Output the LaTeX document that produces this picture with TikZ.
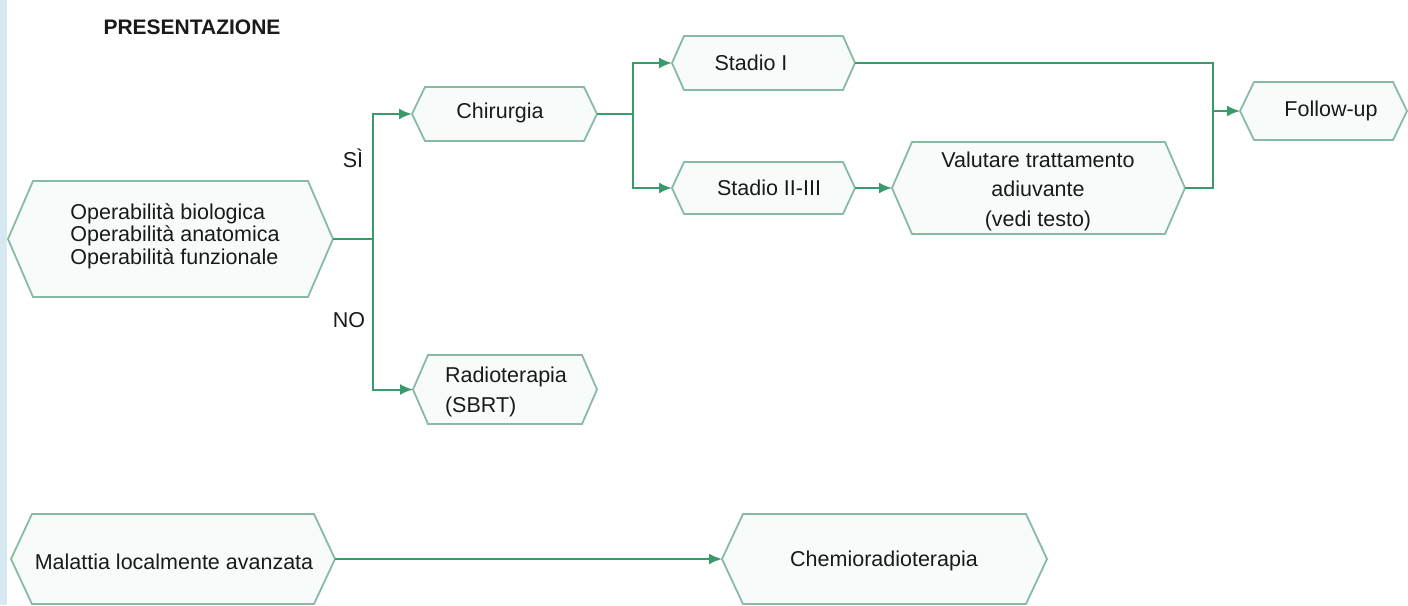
\documentclass[tikz,border=0pt]{standalone}
\usepackage{fontspec}
\setmainfont{Liberation Sans}
\usetikzlibrary{arrows.meta}

\definecolor{flowgreen}{HTML}{3A9A6C}
\definecolor{boxedge}{HTML}{88BBA4}
\definecolor{boxfill}{HTML}{F7FCFA}
\definecolor{sidebar}{HTML}{D6E9F2}
\definecolor{ink}{HTML}{1A1A1A}

% Elongated hexagon: name, left tip x, right tip x, top y, bottom y, slant.
% Defines (name-l), (name-r) at the two tips and (name-c) at the centre.
\newcommand\hexbox[6]{%
  \draw[hexedge] (#2,{(#4+#5)/2}) -- ({#2+#6},#4) -- ({#3-#6},#4)
    -- (#3,{(#4+#5)/2}) -- ({#3-#6},#5) -- ({#2+#6},#5) -- cycle;
  \coordinate (#1-l) at (#2,{(#4+#5)/2});
  \coordinate (#1-r) at (#3,{(#4+#5)/2});
  \coordinate (#1-c) at ({(#2+#3)/2},{(#4+#5)/2});
}

\tikzset{
  hexedge/.style={draw=boxedge, fill=boxfill, line width=1.8pt, line join=miter},
  txt/.style={text=ink, inner sep=0pt, font=\fontsize{21.5}{22.5}\selectfont},
  txtwide/.style={txt, font=\fontsize{21.5}{29.5}\selectfont},
  flow/.style={draw=flowgreen, line width=2pt},
  flowarrow/.style={flow, -{Latex[length=13pt,width=11pt]}},
}

\begin{document}
\begin{tikzpicture}[x=1pt,y=-1pt]
\useasboundingbox (0,0) rectangle (1408,605);
\fill[white] (0,0) rectangle (1408,605);
\fill[sidebar] (0,0) rectangle (7,605);

\node[txt, font=\bfseries\fontsize{21}{22}\selectfont] (title) at (192,27) {PRESENTAZIONE};

% boxes
\hexbox{oper}{8}{333}{181}{297}{25}
\node[txt, align=left] (oper) at (175,236) {Operabilità biologica\\Operabilità anatomica\\Operabilità funzionale};

\hexbox{chir}{412}{597}{87}{141}{13}
\node[txt] (chir) at (500,113) {Chirurgia};

\hexbox{stadA}{672}{855}{36}{90}{12}
\node[txt] (stadA) at (751,63) {Stadio I};

\hexbox{stadB}{672}{855}{162}{214}{12}
\node[txt] (stadB) at (769,188) {Stadio II-III};

\hexbox{valu}{892}{1185}{142}{234}{20}
\node[txtwide, align=center] (valu) at (1038,191) {Valutare trattamento\\adiuvante\\(vedi testo)};

\hexbox{foll}{1240}{1407}{82}{140}{14}
\node[txt] (foll) at (1331,111) {Follow-up};

\hexbox{radio}{413}{597}{355}{424}{15}
\node[txtwide, align=left] (radio) at (506,392) {Radioterapia\\(SBRT)};

\hexbox{mal}{11}{335}{514}{604}{21}
\node[txt] (mal) at (174,562) {Malattia localmente avanzata};

\hexbox{chemo}{722}{1047}{514}{604}{21}
\node[txt] (chemo) at (884,561) {Chemioradioterapia};

% branch labels
\node[txt] (yes) at (353,158) {SÌ};
\node[txt] (no) at (349,320) {NO};

% connectors
\coordinate (forkA) at (373,239);
\draw[flow] (oper-r) -- (forkA);
\draw[flowarrow] (forkA) |- (chir-l);
\draw[flowarrow] (forkA) |- (radio-l);

\coordinate (forkB) at (633,114);
\draw[flow] (chir-r) -- (forkB);
\draw[flowarrow] (forkB) |- (stadA-l);
\draw[flowarrow] (forkB) |- (stadB-l);

\draw[flowarrow] (stadB-r) -- (valu-l);

\coordinate (join) at (1213,111);
\draw[flow] (stadA-r) -| (join);
\draw[flow] (valu-r) -| (join);
\draw[flowarrow] (join) -- (foll-l);

\draw[flowarrow] (mal-r) -- (chemo-l);
\end{tikzpicture}
\end{document}
